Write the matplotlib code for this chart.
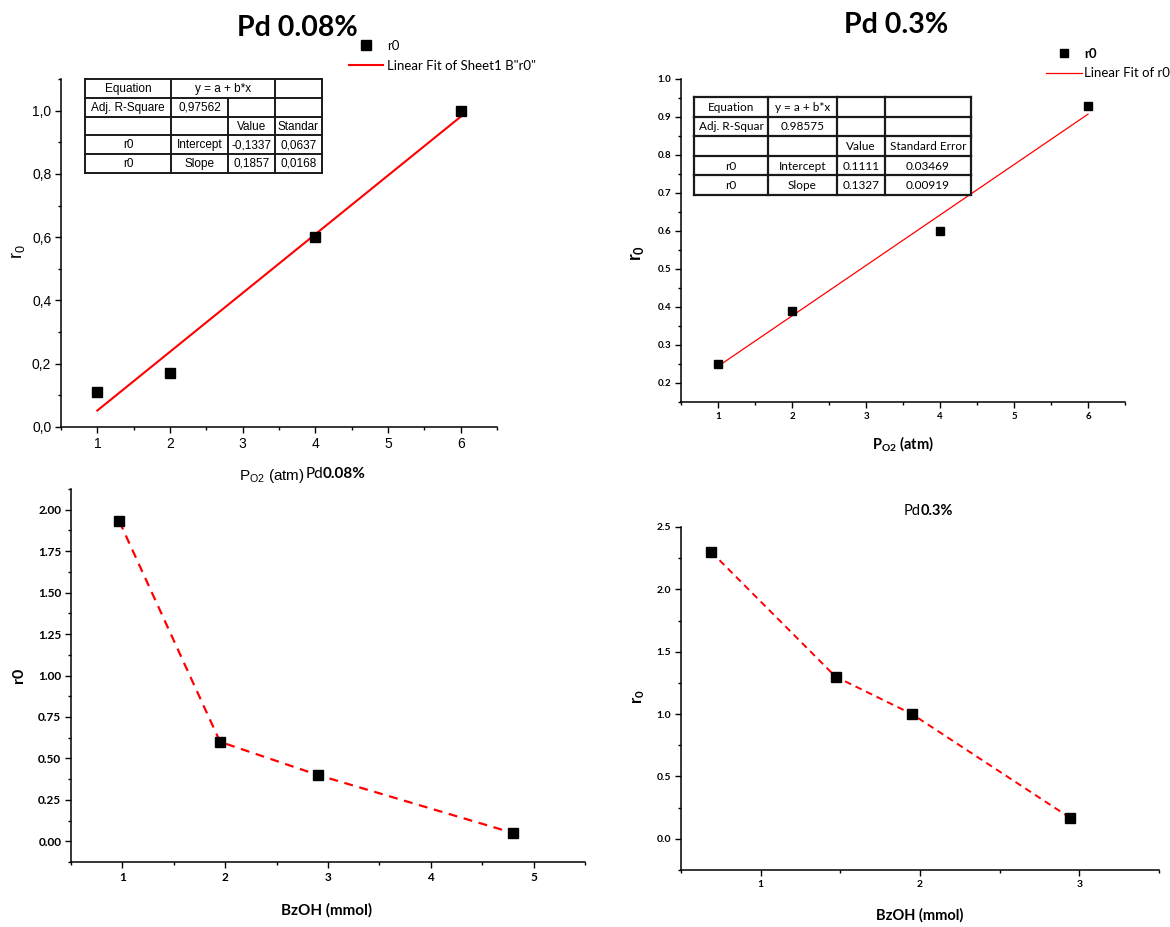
import numpy as np
import matplotlib
matplotlib.use("Agg")
import matplotlib.pyplot as plt
from matplotlib.lines import Line2D
from matplotlib.ticker import MultipleLocator, FuncFormatter, FormatStrFormatter

W, H = 1170, 927

# --- data ---
po2 = [1, 2, 4, 6]
r0_pd008 = [0.11, 0.17, 0.60, 1.00]
r0_pd03 = [0.25, 0.39, 0.60, 0.93]

bzoh_pd008 = [0.97, 1.95, 2.90, 4.80]
r0_bz_pd008 = [1.93, 0.60, 0.40, 0.05]
bzoh_pd03 = [0.69, 1.47, 1.95, 2.94]
r0_bz_pd03 = [2.30, 1.30, 1.00, 0.17]

# fit report tables (text, column span)
table_pd008 = [
    [("Equation", 1), ("y = a + b*x", 2), ("", 1)],
    [("Adj. R-Square", 1), ("0,97562", 1), ("", 1), ("", 1)],
    [("", 1), ("", 1), ("Value", 1), ("Standar", 1)],
    [("r0", 1), ("Intercept", 1), ("-0,1337", 1), ("0,0637", 1)],
    [("r0", 1), ("Slope", 1), ("0,1857", 1), ("0,0168", 1)],
]
table_pd03 = [
    [("Equation", 1), ("y = a + b*x", 1), ("", 1), ("", 1)],
    [("Adj. R-Squar", 1), ("0.98575", 1), ("", 1), ("", 1)],
    [("", 1), ("", 1), ("Value", 1), ("Standard Error", 1)],
    [("r0", 1), ("Intercept", 1), ("0.1111", 1), ("0.03469", 1)],
    [("r0", 1), ("Slope", 1), ("0.1327", 1), ("0.00919", 1)],
]

ARIAL = "Liberation Sans"
CALI = "Lato"

plt.rcParams["mathtext.default"] = "regular"
plt.rcParams["mathtext.fontset"] = "custom"
plt.rcParams["mathtext.rm"] = "Lato"
plt.rcParams["mathtext.bf"] = "Lato:bold"
plt.rcParams["mathtext.it"] = "Lato:italic"

fig = plt.figure(figsize=(W / 100, H / 100), dpi=100)


def fx(x):
    return x / W


def fy(y):
    return 1 - y / H


def make_axes(box):
    l, t, r, b = box
    return fig.add_axes([l / W, 1 - b / H, (r - l) / W, (b - t) / H])


def place_label(ax, box, axis, px, py):
    l, t, r, b = box
    xf = (px - l) / (r - l)
    yf = (b - py) / (b - t)
    a = ax.xaxis if axis == "x" else ax.yaxis
    a.set_label_coords(xf, yf)
    a.label.set_va("center")
    a.label.set_ha("center")


def style(ax, family, size, bold):
    for s in ("top", "right"):
        ax.spines[s].set_visible(False)
    for s in ("left", "bottom"):
        ax.spines[s].set_linewidth(1.1)
    ax.tick_params(which="both", direction="out", width=1.0,
                   labelsize=size, labelfontfamily=family)
    ax.tick_params(which="major", length=4, pad=3)
    ax.tick_params(which="minor", length=2.5)
    if bold:
        plt.setp(ax.get_xticklabels() + ax.get_yticklabels(), fontweight="bold")


def draw_table(cols, rows, cells, size, family, lw):
    for y in rows:
        fig.add_artist(Line2D([fx(cols[0]), fx(cols[-1])], [fy(y), fy(y)],
                              lw=lw, color="#1a1a1a"))
    for i, row in enumerate(cells):
        c = 0
        edges = [cols[0]]
        for text, span in row:
            x0, x1 = cols[c], cols[c + span]
            fig.text(fx((x0 + x1) / 2), fy((rows[i] + rows[i + 1]) / 2 + 0.5), text,
                     ha="center", va="center", fontsize=size, family=family)
            c += span
            edges.append(x1)
        for x in edges:
            fig.add_artist(Line2D([fx(x), fx(x)], [fy(rows[i]), fy(rows[i + 1])],
                                  lw=lw, color="#1a1a1a"))


def split_title(x, y, normal, bold, size):
    # "Pd" in regular weight followed directly by the bold loading
    fig.text(fx(x), fy(y), normal, ha="right", va="baseline", fontsize=size, family=CALI)
    fig.text(fx(x), fy(y), bold, ha="left", va="baseline", fontsize=size,
             fontweight="bold", family=CALI)


# ---------------- panel 1: Pd 0.08 %, r0 vs PO2 ----------------
box1 = (61, 79, 497, 427)
ax1 = make_axes(box1)
b1, a1 = np.polyfit(po2, r0_pd008, 1)
xf1 = np.array([po2[0], po2[-1]])
fit1, = ax1.plot(xf1, a1 + b1 * xf1, color="red", lw=1.5, zorder=1)
pts1, = ax1.plot(po2, r0_pd008, "s", color="black", ms=7, ls="none", zorder=2)
ax1.set_xlim(0.5, 6.5)
ax1.set_ylim(0, 1.1)
ax1.xaxis.set_major_locator(MultipleLocator(1))
ax1.xaxis.set_minor_locator(MultipleLocator(0.5))
ax1.yaxis.set_major_locator(MultipleLocator(0.2))
ax1.yaxis.set_minor_locator(MultipleLocator(0.1))
ax1.yaxis.set_major_formatter(FuncFormatter(lambda v, p: f"{v:.1f}".replace(".", ",")))
style(ax1, ARIAL, 10, False)
ax1.set_ylabel("$\\mathregular{r_0}$", fontsize=13, family=ARIAL)
place_label(ax1, box1, "y", 18, 252)
ax1.set_xlabel("$\\mathregular{P_{O2}}$ (atm)", fontsize=11, family=ARIAL)
place_label(ax1, box1, "x", 272, 476)
fig.text(fx(297), fy(28), "Pd 0.08%", ha="center", va="center",
         fontsize=20.5, fontweight="bold", family=CALI)
leg1 = fig.legend([pts1, fit1], ["r0", 'Linear Fit of Sheet1 B"r0"'],
                  loc="upper left", bbox_to_anchor=(fx(349), fy(40)),
                  frameon=False, borderpad=0, borderaxespad=0, handlelength=2.6,
                  handletextpad=0.3, labelspacing=0.6,
                  prop={"family": CALI, "size": 9.5})
draw_table([85, 171, 228, 275, 322], [79, 98, 117, 135, 154, 173],
           table_pd008, 8.5, ARIAL, 1.4)

# ---------------- panel 2: Pd 0.3 %, r0 vs PO2 ----------------
box2 = (681, 79, 1125, 402)
ax2 = make_axes(box2)
b2, a2 = np.polyfit(po2, r0_pd03, 1)
xf2 = np.array([po2[0], po2[-1]])
fit2, = ax2.plot(xf2, a2 + b2 * xf2, color="red", lw=0.9, zorder=1)
pts2, = ax2.plot(po2, r0_pd03, "s", color="black", ms=6, ls="none", zorder=2)
ax2.set_xlim(0.5, 6.5)
ax2.set_ylim(0.15, 1.0)
ax2.xaxis.set_major_locator(MultipleLocator(1))
ax2.xaxis.set_minor_locator(MultipleLocator(0.5))
ax2.yaxis.set_major_locator(MultipleLocator(0.1))
ax2.yaxis.set_minor_locator(MultipleLocator(0.05))
ax2.yaxis.set_major_formatter(FormatStrFormatter("%.1f"))
style(ax2, CALI, 7, True)
ax2.set_ylabel("$\\mathbf{r_0}$", fontsize=13, fontweight="bold", family=CALI)
place_label(ax2, box2, "y", 638, 253)
ax2.set_xlabel("$\\mathbf{P_{O2}}$ (atm)", fontsize=10.5, fontweight="bold", family=CALI)
place_label(ax2, box2, "x", 903, 444)
fig.text(fx(896), fy(25), "Pd 0.3%", ha="center", va="center",
         fontsize=20.5, fontweight="bold", family=CALI)
leg2 = fig.legend([pts2, fit2], ["r0", "Linear Fit of r0"],
                  loc="upper left", bbox_to_anchor=(fx(1046), fy(48)),
                  frameon=False, borderpad=0, borderaxespad=0, handlelength=2.7,
                  handletextpad=0.2, labelspacing=0.55,
                  prop={"family": CALI, "size": 9.5})
leg2.get_texts()[0].set_fontweight("bold")
draw_table([694, 768, 837, 885, 971], [97, 117, 136, 156, 175, 195],
           table_pd03, 8.5, CALI, 1.6)

# ---------------- panel 3: Pd 0.08 %, r0 vs BzOH ----------------
box3 = (71, 489, 585, 862)
ax3 = make_axes(box3)
ax3.plot(bzoh_pd008, r0_bz_pd008, color="red", lw=1.6, dashes=(4, 3), zorder=1)
ax3.plot(bzoh_pd008, r0_bz_pd008, "s", color="black", ms=7, ls="none", zorder=2)
ax3.set_xlim(0.5, 5.5)
ax3.set_ylim(-0.125, 2.125)
ax3.xaxis.set_major_locator(MultipleLocator(1))
ax3.xaxis.set_minor_locator(MultipleLocator(0.5))
ax3.yaxis.set_major_locator(MultipleLocator(0.25))
ax3.yaxis.set_minor_locator(MultipleLocator(0.125))
ax3.yaxis.set_major_formatter(FormatStrFormatter("%.2f"))
style(ax3, CALI, 8.5, True)
ax3.set_ylabel("r0", fontsize=11.5, fontweight="bold", family=CALI)
place_label(ax3, box3, "y", 19, 675)
ax3.set_xlabel("BzOH (mmol)", fontsize=11, fontweight="bold", family=CALI)
place_label(ax3, box3, "x", 327, 910)
split_title(323, 478, "Pd", "0.08%", 11)

# ---------------- panel 4: Pd 0.3 %, r0 vs BzOH ----------------
box4 = (681, 527, 1159, 870)
ax4 = make_axes(box4)
ax4.plot(bzoh_pd03, r0_bz_pd03, color="red", lw=1.4, dashes=(3.5, 2.5), zorder=1)
ax4.plot(bzoh_pd03, r0_bz_pd03, "s", color="black", ms=6.5, ls="none", zorder=2)
ax4.set_xlim(0.5, 3.5)
ax4.set_ylim(-0.25, 2.5)
ax4.xaxis.set_major_locator(MultipleLocator(1))
ax4.xaxis.set_minor_locator(MultipleLocator(0.5))
ax4.yaxis.set_major_locator(MultipleLocator(0.5))
ax4.yaxis.set_minor_locator(MultipleLocator(0.25))
ax4.yaxis.set_major_formatter(FormatStrFormatter("%.1f"))
style(ax4, CALI, 7.5, True)
ax4.set_ylabel("$\\mathbf{r_0}$", fontsize=12, fontweight="bold", family=CALI)
place_label(ax4, box4, "y", 639, 697)
ax4.set_xlabel("BzOH (mmol)", fontsize=10.5, fontweight="bold", family=CALI)
place_label(ax4, box4, "x", 920, 915)
split_title(921, 515, "Pd", "0.3%", 10.5)

fig.savefig("out.png", dpi=100)
